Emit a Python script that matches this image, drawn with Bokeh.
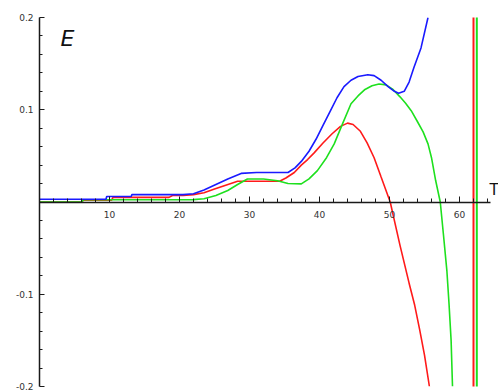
from bokeh.plotting import figure
from bokeh.models import Range1d, LinearAxis, FixedTicker, Label
from bokeh.embed import file_html
from bokeh.resources import INLINE

# ---- data ----
blue_t = [0, 9.5, 9.6, 13.1, 13.2, 20.5, 22.0, 23.5, 25.2, 26.9, 28.8, 31.0, 35.5, 36.5, 37.4,
          38.5, 39.5, 40.5, 41.5, 42.5, 43.5, 44.5, 45.5, 46.9, 47.8, 48.8, 49.8, 50.7, 51.3,
          52.1, 52.8, 53.5, 54.5, 55.5]
blue_v = [0.003, 0.003, 0.006, 0.006, 0.008, 0.008, 0.009, 0.013, 0.019, 0.025, 0.031, 0.032,
          0.032, 0.037, 0.044, 0.055, 0.068, 0.083, 0.098, 0.113, 0.125, 0.132, 0.136, 0.138,
          0.137, 0.132, 0.125, 0.120, 0.118, 0.120, 0.130, 0.146, 0.167, 0.2]

red_t = [0, 6.0, 6.3, 10.3, 10.5, 18.5, 19.0, 20.5, 22.0, 23.5, 25.0, 26.5, 28.3, 34.3, 35.2,
         36.4, 37.4, 38.3, 39.2, 40.5, 41.8, 43.0, 44.0, 44.8, 45.8, 46.8, 47.8, 48.8, 50.1,
         51.5, 52.8, 53.6, 54.3, 55.0, 55.7]
red_v = [0.0, 0.0, 0.002, 0.002, 0.005, 0.005, 0.007, 0.007, 0.008, 0.010, 0.014, 0.018,
         0.0225, 0.0225, 0.026, 0.032, 0.040, 0.046, 0.053, 0.064, 0.074, 0.082, 0.0855, 0.084,
         0.077, 0.064, 0.048, 0.027, 0.0, -0.047, -0.088, -0.112, -0.138, -0.166, -0.2]

green_t = [0, 6.0, 6.3, 20.5, 22.0, 23.5, 25.2, 26.9, 28.3, 29.7, 32.0, 34.0, 35.5, 37.4, 38.5,
           39.7, 41.0, 42.1, 43.3, 44.5, 45.5, 46.5, 47.5, 48.5, 49.5, 50.5, 51.5, 52.3, 53.1,
           54.0, 54.8, 55.5, 56.0, 56.6, 57.25, 57.7, 58.2, 58.5, 58.8, 59.0]
green_v = [0.0, 0.0, 0.0024, 0.0024, 0.0026, 0.0035, 0.007, 0.0125, 0.019, 0.025, 0.025,
           0.023, 0.020, 0.0197, 0.025, 0.034, 0.048, 0.063, 0.085, 0.1065, 0.115, 0.122, 0.126,
           0.128, 0.127, 0.122, 0.114, 0.107, 0.099, 0.087, 0.076, 0.063, 0.048, 0.023, 0.0,
           -0.035, -0.075, -0.11, -0.15, -0.2]

# vertical asymptote branches
red_pole_t = [62.0, 62.0]
green_pole_t = [62.47, 62.47]
pole_v = [-0.25, 0.21]

x_major = [10, 20, 30, 40, 50, 60]
x_minor = [2, 4, 6, 8, 12, 14, 16, 18, 22, 24, 26, 28, 32, 34, 36, 38, 42, 44, 46, 48,
           52, 54, 56, 58, 62, 64]
y_major = [-0.2, -0.1, 0.1, 0.2]
y_minor = [-0.18, -0.16, -0.14, -0.12, -0.08, -0.06, -0.04, -0.02,
           0.02, 0.04, 0.06, 0.08, 0.12, 0.14, 0.16, 0.18]
y_labels = {-0.2: "-0.2", -0.1: "-0.1", 0.1: "0.1", 0.2: "0.2"}
x_axis_end = 64.43

# ---- figure ----
p = figure(width=498, height=392, output_backend="svg", toolbar_location=None,
           x_range=Range1d(0, 65.57), y_range=Range1d(-0.2, 0.2),
           x_axis_location=None, y_axis_location=None,
           min_border_left=39, min_border_right=0, min_border_top=17, min_border_bottom=6)
p.outline_line_color = None
p.background_fill_color = "white"
p.border_fill_color = "white"
p.grid.visible = False

FONT = "DejaVu Sans"

xaxis = LinearAxis(fixed_location=0, bounds=(0, x_axis_end),
                   ticker=FixedTicker(ticks=x_major, minor_ticks=x_minor))
yaxis = LinearAxis(ticker=FixedTicker(ticks=y_major, minor_ticks=y_minor))
yaxis.major_label_overrides = y_labels
for ax in (xaxis, yaxis):
    ax.axis_line_color = "#1a1a1a"
    ax.axis_line_width = 1.5
    ax.major_tick_line_color = "#1a1a1a"
    ax.minor_tick_line_color = "#1a1a1a"
    ax.major_tick_out = 0
    ax.minor_tick_out = 0
    ax.major_label_text_font = FONT
    ax.major_label_text_font_size = "9px"
    ax.major_label_text_color = "#333333"
xaxis.major_tick_in = 6
xaxis.minor_tick_in = 4
xaxis.major_label_standoff = 9
yaxis.major_tick_in = 5
yaxis.minor_tick_in = 3
yaxis.major_label_standoff = 6
p.add_layout(xaxis, "below")
p.add_layout(yaxis, "left")

p.line(red_t, red_v, line_color="#ff1a1a", line_width=1.6)
p.line(green_t, green_v, line_color="#1ee01e", line_width=1.6)
p.line(blue_t, blue_v, line_color="#1a1aff", line_width=1.6)
p.line(red_pole_t, pole_v, line_color="#ff1a1a", line_width=2)
p.line(green_pole_t, pole_v, line_color="#1ee01e", line_width=2)

p.add_layout(Label(x=3.0, y=0.1775, text="E", text_font=FONT, text_font_style="italic",
                   text_font_size="22px", text_color="#111111", text_baseline="alphabetic"))
p.add_layout(Label(x=64.3, y=0.013, text="T", text_font=FONT,
                   text_font_size="15px", text_color="#111111", text_baseline="alphabetic"))

open("out.html", "w").write(file_html(p, INLINE))
